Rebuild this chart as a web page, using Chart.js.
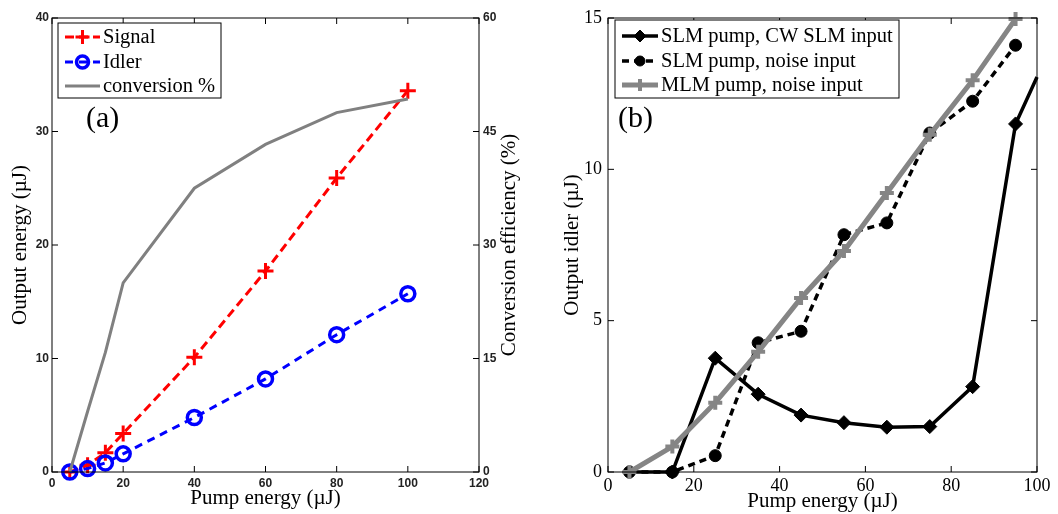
<!DOCTYPE html>
<html>
<head>
<meta charset="utf-8">
<script src="https://cdn.jsdelivr.net/npm/chart.js"></script>
<style>
  body { margin: 0; background: #fff; }
  #wrap { position: relative; width: 1058px; height: 514px; overflow: hidden; }
  .panel { position: absolute; top: 0; }
  .tag { position: absolute; top: 100px; font: 30px "Liberation Serif", serif; color: #000; }
</style>
</head>
<body>
<div id="wrap">
  <canvas id="chartA" class="panel" width="530" height="514" style="left:0"></canvas>
  <canvas id="chartB" class="panel" width="528" height="514" style="left:530px"></canvas>
  <div class="tag" style="left:86px">(a)</div>
  <div class="tag" style="left:618px">(b)</div>
</div>
<script>
// ---- panel (a) data ----
const pumpA = [5, 10, 15, 20, 40, 60, 80, 100];
const signal = [0, 0.6, 1.7, 3.4, 10.1, 17.7, 25.9, 33.6];
const idler = [0, 0.3, 0.8, 1.6, 4.8, 8.2, 12.1, 15.7];
const conversion = [0, 8, 15.8, 25, 37.5, 43.3, 47.5, 49.3];
const xTicksA = [0, 20, 40, 60, 80, 100, 120];
const yTicksA = [0, 10, 20, 30, 40];
const y2TicksA = [0, 15, 30, 45, 60];

// ---- panel (b) data ----
const pumpB = [5, 15, 25, 35, 45, 55, 65, 75, 85, 95];
const pumpCw = [5, 15, 25, 35, 45, 55, 65, 75, 85, 95, 100];
const slmCw = [0, 0, 3.76, 2.57, 1.88, 1.63, 1.48, 1.5, 2.82, 11.5, 13.05];
const slmNoise = [0, 0, 0.54, 4.27, 4.65, 7.84, 8.23, 11.2, 12.25, 14.1];
const mlmNoise = [0, 0.84, 2.29, 3.97, 5.75, 7.3, 9.22, 11.14, 12.94, 14.97];
const xTicksB = [0, 20, 40, 60, 80, 100];
const yTicksB = [0, 5, 10, 15];

const pts = (xs, ys) => xs.map((x, i) => ({ x: x, y: ys[i] }));
const setTicks = arr => s => { s.ticks = arr.map(v => ({ value: v })); };
const serif = 'Liberation Serif';
const noGrid = { display: false, drawTicks: false };

// box round the plot with MATLAB-style inward ticks
const frameTicks = {
  id: 'frameTicks',
  afterDraw(chart) {
    const { ctx, chartArea: a, scales } = chart;
    const len = 6;
    ctx.save();
    ctx.strokeStyle = '#000';
    ctx.lineWidth = 1;
    ctx.setLineDash([]);
    ctx.strokeRect(a.left, a.top, a.right - a.left, a.bottom - a.top);
    ctx.beginPath();
    scales.x.ticks.forEach(t => {
      const px = scales.x.getPixelForValue(t.value);
      ctx.moveTo(px, a.bottom); ctx.lineTo(px, a.bottom - len);
      ctx.moveTo(px, a.top); ctx.lineTo(px, a.top + len);
    });
    scales.y.ticks.forEach(t => {
      const py = scales.y.getPixelForValue(t.value);
      ctx.moveTo(a.left, py); ctx.lineTo(a.left + len, py);
      ctx.moveTo(a.right, py); ctx.lineTo(a.right - len, py);
    });
    ctx.stroke();

    // right-hand title, reading bottom to top like the left one
    const st = chart.options.plugins.sideTitle;
    if (st && st.text) {
      ctx.save();
      ctx.translate(chart.width - st.offset, (a.top + a.bottom) / 2);
      ctx.rotate(-Math.PI / 2);
      ctx.font = '21px "' + serif + '"';
      ctx.fillStyle = '#000';
      ctx.textAlign = 'center';
      ctx.textBaseline = 'middle';
      ctx.fillText(st.text, 0, 0);
      ctx.restore();
    }

    // boxed legend inside the plot
    const lg = chart.options.plugins.boxLegend;
    if (lg) {
      const x0 = a.left + lg.left, y0 = a.top + lg.top;
      ctx.fillStyle = '#fff';
      ctx.fillRect(x0, y0, lg.width, lg.height);
      ctx.strokeStyle = '#000';
      ctx.lineWidth = 1;
      ctx.strokeRect(x0, y0, lg.width, lg.height);
      chart.data.datasets.forEach((ds, i) => {
        const y = a.top + lg.rows[i];
        ctx.save();
        ctx.strokeStyle = ds.borderColor;
        ctx.lineWidth = ds.borderWidth;
        ctx.setLineDash(ds.borderDash || []);
        ctx.beginPath();
        ctx.moveTo(a.left + lg.lineFrom, y);
        ctx.lineTo(a.left + lg.lineTo, y);
        ctx.stroke();
        ctx.setLineDash([]);
        const r = typeof ds.pointRadius === 'number' ? ds.pointRadius : ds.legendRadius;
        if (r > 0) {
          ctx.strokeStyle = ds.pointBorderColor;
          ctx.fillStyle = ds.pointBackgroundColor;
          ctx.lineWidth = ds.pointBorderWidth;
          Chart.helpers.drawPoint(ctx, {
            pointStyle: ds.pointStyle, rotation: 0, radius: r - 1, borderWidth: ds.pointBorderWidth
          }, a.left + (lg.lineFrom + lg.lineTo) / 2, y);
        }
        ctx.restore();
        ctx.font = '20.5px "' + serif + '"';
        ctx.fillStyle = '#000';
        ctx.textAlign = 'left';
        ctx.textBaseline = 'middle';
        ctx.fillText(ds.label, a.left + lg.textX, y + 1);
      });
    }
    ctx.restore();
  }
};

// ---- chart (a) ----
const tickFontA = { family: 'Liberation Sans', size: 12, weight: 'bold' };
new Chart(document.getElementById('chartA'), {
  type: 'line',
  data: {
    datasets: [
      {
        label: 'Signal', data: pts(pumpA, signal), yAxisID: 'y', order: 2,
        borderColor: '#ff0000', borderWidth: 3, borderDash: [9, 5],
        pointStyle: 'cross', pointRadius: 8, pointBorderWidth: 3,
        pointBorderColor: '#ff0000', pointBackgroundColor: '#ff0000', clip: false
      },
      {
        label: 'Idler', data: pts(pumpA, idler), yAxisID: 'y', order: 1,
        borderColor: '#0000ff', borderWidth: 3, borderDash: [8, 6],
        pointStyle: 'circle', pointRadius: 7, pointBorderWidth: 3.5,
        pointBorderColor: '#0000ff', pointBackgroundColor: 'rgba(0,0,0,0)', clip: false
      },
      {
        label: 'conversion %', data: pts(pumpA, conversion), yAxisID: 'y2', order: 0,
        borderColor: '#808080', borderWidth: 3, pointRadius: 0, clip: false
      }
    ]
  },
  options: {
    responsive: false,
    animation: false,
    events: [],
    layout: { padding: { top: 18, left: 0, right: 0, bottom: 0 } },
    elements: { line: { tension: 0 } },
    plugins: {
      legend: { display: false },
      tooltip: { enabled: false },
      sideTitle: { text: 'Conversion efficiency (%)', offset: 21 },
      boxLegend: { left: 6, top: 5, width: 163, height: 75, rows: [19, 44, 68], lineFrom: 13, lineTo: 48, textX: 51 }
    },
    scales: {
      x: {
        type: 'linear', min: 0, max: 120,
        afterBuildTicks: setTicks(xTicksA),
        afterFit: s => { s.height = 42; },
        grid: noGrid, border: { display: false },
        ticks: { font: tickFontA, color: '#222', padding: 4, maxRotation: 0, autoSkip: false },
        title: { display: true, text: 'Pump energy (µJ)', color: '#000', font: { family: serif, size: 21 }, padding: { top: 0, bottom: 3 } }
      },
      y: {
        position: 'left', min: 0, max: 40,
        afterBuildTicks: setTicks(yTicksA),
        afterFit: s => { s.width = 52; },
        grid: noGrid, border: { display: false },
        ticks: { font: tickFontA, color: '#222', padding: 3 },
        title: { display: true, text: 'Output energy (µJ)', color: '#000', font: { family: serif, size: 21 }, padding: { top: 8, bottom: 0 } }
      },
      y2: {
        position: 'right', min: 0, max: 60,
        afterBuildTicks: setTicks(y2TicksA),
        afterFit: s => { s.width = 51; },
        grid: noGrid, border: { display: false },
        ticks: { font: tickFontA, color: '#222', padding: 4 }
      }
    }
  },
  plugins: [frameTicks]
});

// ---- chart (b) ----
const tickFontB = { family: serif, size: 18 };
new Chart(document.getElementById('chartB'), {
  type: 'line',
  data: {
    datasets: [
      {
        label: 'SLM pump, CW SLM input', data: pts(pumpCw, slmCw), order: 2,
        borderColor: '#000', borderWidth: 3.5,
        pointStyle: 'rectRot', legendRadius: 7,
        pointRadius: c => (c.raw && c.raw.x > 95 ? 0 : 7), pointBorderWidth: 1,
        pointBorderColor: '#000', pointBackgroundColor: '#000', clip: false
      },
      {
        label: 'SLM pump, noise input', data: pts(pumpB, slmNoise), order: 1,
        borderColor: '#000', borderWidth: 3.5, borderDash: [7, 5],
        pointStyle: 'circle', pointRadius: 6, pointBorderWidth: 1,
        pointBorderColor: '#000', pointBackgroundColor: '#000', clip: false
      },
      {
        label: 'MLM pump, noise input', data: pts(pumpB, mlmNoise), order: 0,
        borderColor: '#858585', borderWidth: 5,
        pointStyle: 'cross', pointRadius: 7, pointBorderWidth: 4,
        pointBorderColor: '#858585', pointBackgroundColor: '#858585', clip: false
      }
    ]
  },
  options: {
    responsive: false,
    animation: false,
    events: [],
    layout: { padding: { top: 18, left: 0, right: 21, bottom: 0 } },
    elements: { line: { tension: 0 } },
    plugins: {
      legend: { display: false },
      tooltip: { enabled: false },
      boxLegend: { left: 7, top: 2, width: 284, height: 78, rows: [18, 43, 67], lineFrom: 14, lineTo: 50, textX: 53 }
    },
    scales: {
      x: {
        type: 'linear', min: 0, max: 100,
        afterBuildTicks: setTicks(xTicksB),
        afterFit: s => { s.height = 42; },
        grid: noGrid, border: { display: false },
        ticks: { font: tickFontB, color: '#000', padding: 3, maxRotation: 0, autoSkip: false },
        title: { display: true, text: 'Pump energy (µJ)', color: '#000', font: { family: serif, size: 21 }, padding: { top: 0, bottom: 0 } }
      },
      y: {
        position: 'left', min: 0, max: 15,
        afterBuildTicks: setTicks(yTicksB),
        afterFit: s => { s.width = 78; },
        grid: noGrid, border: { display: false },
        ticks: { font: tickFontB, color: '#000', padding: 6 },
        title: { display: true, text: 'Output idler (µJ)', color: '#000', font: { family: serif, size: 21 }, padding: { top: 30, bottom: 0 } }
      }
    }
  },
  plugins: [frameTicks]
});
</script>
</body>
</html>
